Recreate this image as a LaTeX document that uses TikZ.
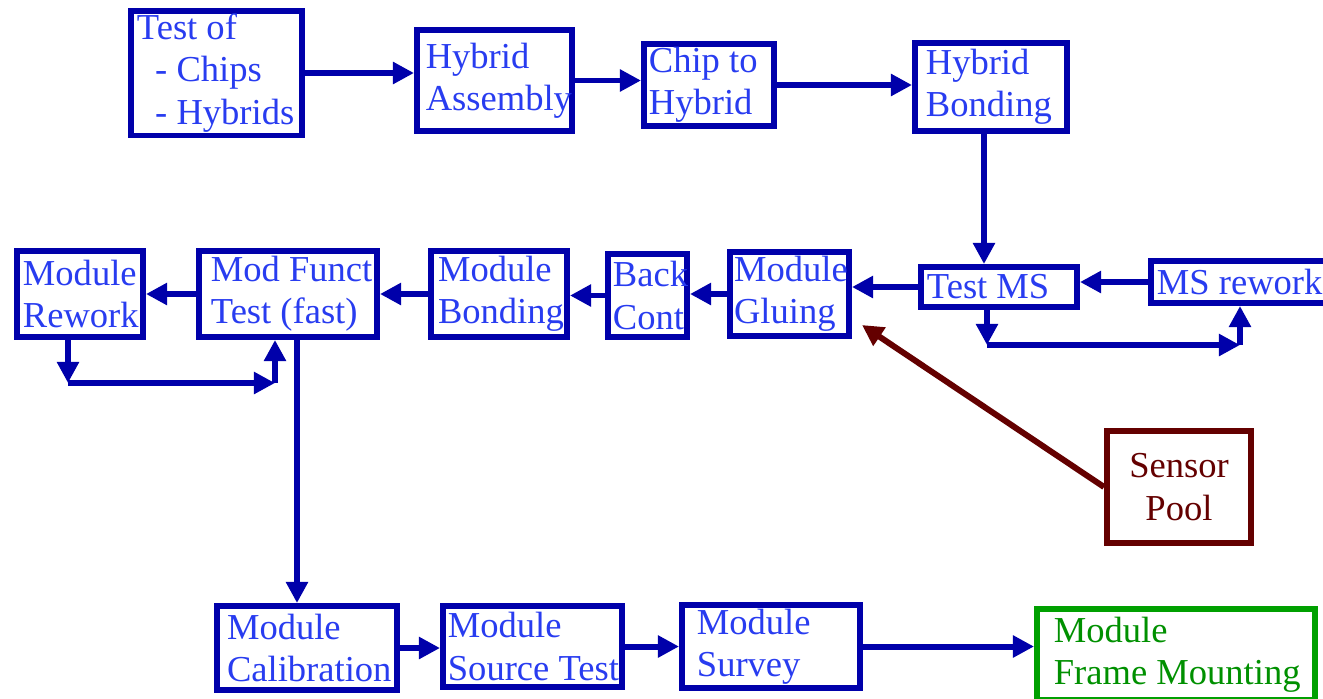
\documentclass[tikz,border=0pt]{standalone}
\usepackage{fontspec}
\setmainfont{Liberation Serif}
\usetikzlibrary{arrows.meta}

\definecolor{boxblue}{RGB}{0,0,170}
\definecolor{textblue}{RGB}{40,60,240}
\definecolor{pooldark}{RGB}{100,0,0}
\definecolor{framegreen}{RGB}{0,160,0}

\hyphenpenalty=10000
\exhyphenpenalty=10000
% fixed word spaces inside the boxes
\protected\def\blockfont{\fontsize{20.8}{24}\selectfont\spaceskip=0.25em\relax}

\begin{document}
\begin{tikzpicture}[
        x=0.02cm, y=-0.02cm,
        block/.style={
            rectangle,
            draw=boxblue,
            line width=3.4pt,
            align=flush left,
            text=textblue,
            font=\blockfont,
            inner xsep=3.4pt,
            inner ysep=2pt
        },
        % width and height of the border line, in picture units
        boxsize/.code 2 args={
            \pgfmathsetlengthmacro\blockw{#1*0.02cm}
            \pgfmathsetlengthmacro\blockh{#2*0.02cm}
            \pgfmathsetlengthmacro\blocktw{#1*0.02cm-2*\pgfkeysvalueof{/pgf/inner xsep}}
            \pgfkeysalso{minimum width=\blockw, minimum height=\blockh, text width=\blocktw}
        },
        arrow/.style={
            -{Triangle[length=12pt,width=12pt]},
            line width=3.4pt,
            draw=boxblue
        }
    ]

        \path[use as bounding box, clip] (0,0) rectangle (1323,698);

        % top row: chips and hybrids
        \node[block, boxsize={171}{124}] (test) at (216.5,73) {Test~of\\\hspace*{0.5em}-~Chips\\\hspace*{0.5em}-~Hybrids};
        \node[block, inner xsep=5pt, boxsize={155}{101}] (hyasm) at (494.5,80.5) {Hybrid\\Assembly};
        \node[block, inner xsep=2.8pt, boxsize={130}{80}] (chip) at (709,85) {Chip~to\\Hybrid};
        \node[block, inner xsep=6.2pt, boxsize={152}{88}] (hybond) at (991,87) {Hybrid\\Bonding};

        % middle row: module assembly
        \node[block, boxsize={126}{86}] (rework) at (80,294) {Module\\Rework};
        \node[block, inner xsep=6.8pt, boxsize={178}{86}] (funct) at (288,294) {Mod~Funct\\Test~(fast)};
        \node[block, inner xsep=4pt, boxsize={136}{86}] (modbond) at (499,294) {Module\\Bonding};
        \node[block, inner xsep=2.8pt, boxsize={79}{83}] (backcont) at (647.5,295.5) {Back\\Cont};
        \node[block, inner xsep=2.3pt, boxsize={119}{84}] (gluing) at (789.5,294) {Module\\Gluing};
        \node[block, boxsize={156}{40}] (testms) at (999,287) {Test~MS};
        \node[block, boxsize={190}{42}] (msrework) at (1246,282) {MS~rework};
        \node[block, boxsize={144}{112}, align=flush center, draw=pooldark, text=pooldark] (sensor) at (1179,487) {Sensor\\Pool};

        % bottom row: final tests
        \node[block, inner xsep=5.7pt, boxsize={180}{84}] (calib) at (307,648) {Module\\Calibration};
        \node[block, inner xsep=2.8pt, boxsize={179}{81}] (source) at (532.5,646.5) {Module\\Source~Test};
        \node[block, inner xsep=8.5pt, boxsize={178}{81}] (survey) at (771,646.5) {Module\\Survey};
        \node[block, inner xsep=9.6pt, boxsize={278}{91}, draw=framegreen, text=framegreen!90!black] (frame) at (1176,654.5) {Module\\Frame~Mounting};

        \coordinate (bonddown) at (984,0);
        \coordinate (msdown) at (987,345);
        \coordinate (msup) at (1240,345);
        \coordinate (rwdown) at (68,383);
        \coordinate (rwup) at (275,383);
        \coordinate (calibdown) at (297,600);
        \coordinate (gluein) at (862,325);

        \draw[arrow] (test.east) -- (test.east -| hyasm.west);
        \draw[arrow] (hyasm.east) -- (hyasm.east -| chip.west);
        \draw[arrow] (chip.east) -- (chip.east -| hybond.west);
        \draw[arrow] (bonddown |- hybond.south) -- (bonddown |- testms.north);

        \draw[arrow] (msrework.west) -- (msrework.west -| testms.east);
        \draw[arrow] (testms.west) -- (testms.west -| gluing.east);
        \draw[arrow] (msdown |- testms.south) -- (msdown);
        \draw[arrow] (msdown) -- (msup);
        \draw[arrow] (msup) -- (msup |- msrework.south);

        \draw[arrow] (gluing.west) -- (gluing.west -| backcont.east);
        \draw[arrow] (backcont.west) -- (backcont.west -| modbond.east);
        \draw[arrow] (modbond.west) -- (modbond.west -| funct.east);
        \draw[arrow] (funct.west) -- (funct.west -| rework.east);

        \draw[arrow] (rwdown |- rework.south) -- (rwdown);
        \draw[arrow] (rwdown) -- (rwup);
        \draw[arrow] (rwup) -- (rwup |- funct.south);

        \draw[arrow] (calibdown |- funct.south) -- (calibdown |- calib.north);

        \draw[arrow, draw=pooldark] (sensor.west) -- (gluein);

        \draw[arrow] (calib.east) -- (calib.east -| source.west);
        \draw[arrow] (source.east) -- (source.east -| survey.west);
        \draw[arrow] (survey.east) -- (survey.east -| frame.west);

    \end{tikzpicture}
\end{document}
